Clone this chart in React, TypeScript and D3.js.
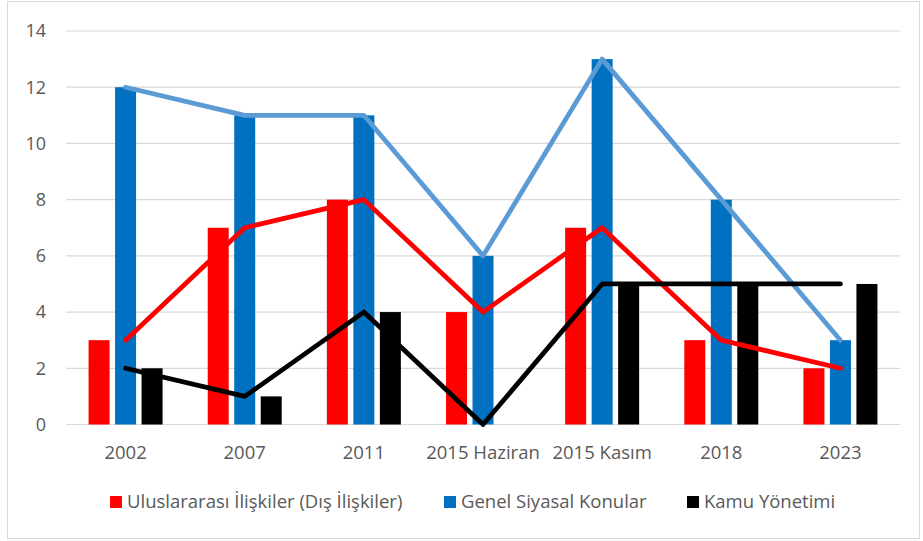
import React, { useEffect, useRef } from 'react';
import * as d3 from 'd3';

const categories = ['2002', '2007', '2011', '2015 Haziran', '2015 Kasım', '2018', '2023'];
const seriesNames = ['Uluslararası İlişkiler (Dış İlişkiler)', 'Genel Siyasal Konular', 'Kamu Yönetimi'];
const intlRelations = [3, 7, 8, 4, 7, 3, 2];
const generalPolitics = [12, 11, 11, 6, 13, 8, 3];
const publicAdmin = [2, 1, 4, 0, 5, 5, 5];
const yTicks = [0, 2, 4, 6, 8, 10, 12, 14];

const barColors = ['#FF0000', '#0070C0', '#000000'];
const lineColors = ['#FF0000', '#5B9BD5', '#000000'];

const W = 923;
const H = 541;
const FONT = '"Open Sans", "Noto Sans", sans-serif';

export default function App() {
  const svgRef = useRef<SVGSVGElement>(null);

  useEffect(() => {
    if (!svgRef.current) return;
    const svg = d3.select(svgRef.current);
    svg.selectAll('*').remove();

    const series = [intlRelations, generalPolitics, publicAdmin];

    const x = d3.scaleBand().domain(categories).range([66, 900]).padding(0);
    const y = d3.scaleLinear().domain([0, 14]).range([424.5, 31]);
    const barStep = 26.5;
    const barW = 21;

    // chart border
    svg
      .append('rect')
      .attr('x', 7.5)
      .attr('y', 1.5)
      .attr('width', 912)
      .attr('height', 537)
      .attr('fill', '#fff')
      .attr('stroke', '#D9D9D9')
      .attr('stroke-width', 1);

    // gridlines
    svg
      .append('g')
      .selectAll('line')
      .data(yTicks)
      .join('line')
      .attr('x1', 66)
      .attr('x2', 900)
      .attr('y1', d => y(d))
      .attr('y2', d => y(d))
      .attr('stroke', '#D9D9D9')
      .attr('stroke-width', 1.2);

    // y labels
    svg
      .append('g')
      .selectAll('text')
      .data(yTicks)
      .join('text')
      .attr('x', 46)
      .attr('y', d => y(d))
      .attr('dy', '0.35em')
      .attr('text-anchor', 'end')
      .attr('fill', '#595959')
      .style('font', `18px ${FONT}`)
      .text(d => d);

    // x labels
    svg
      .append('g')
      .selectAll('text')
      .data(categories)
      .join('text')
      .attr('x', d => (x(d) as number) + x.bandwidth() / 2)
      .attr('y', 459)
      .attr('text-anchor', 'middle')
      .attr('fill', '#595959')
      .style('font', `18.5px ${FONT}`)
      .text(d => d);

    // bars
    series.forEach((vals, si) => {
      svg
        .append('g')
        .selectAll('rect')
        .data(vals)
        .join('rect')
        .attr('x', (d, i) => (x(categories[i]) as number) + x.bandwidth() / 2 + (si - 1) * barStep - barW / 2)
        .attr('y', d => y(d))
        .attr('width', barW)
        .attr('height', d => y(0) - y(d))
        .attr('fill', barColors[si]);
    });

    // lines
    const line = d3
      .line<number>()
      .x((d, i) => (x(categories[i]) as number) + x.bandwidth() / 2)
      .y(d => y(d));

    series.forEach((vals, si) => {
      svg
        .append('path')
        .datum(vals)
        .attr('d', line)
        .attr('fill', 'none')
        .attr('stroke', lineColors[si])
        .attr('stroke-width', 4.75)
        .attr('stroke-linejoin', 'round')
        .attr('stroke-linecap', 'round');
    });

    // legend
    const legendX = [110, 444, 687];
    const lg = svg
      .append('g')
      .selectAll('g')
      .data(seriesNames)
      .join('g')
      .attr('transform', (d, i) => `translate(${legendX[i]},502)`);
    lg.append('rect')
      .attr('x', 0)
      .attr('y', -6)
      .attr('width', 12)
      .attr('height', 12)
      .attr('fill', (d, i) => barColors[i]);
    lg.append('text')
      .attr('x', 17)
      .attr('dy', '0.35em')
      .attr('fill', '#595959')
      .style('font', `18.5px ${FONT}`)
      .text(d => d);
  }, []);

  return <svg ref={svgRef} width={W} height={H} style={{ display: 'block', position: 'absolute', left: 0, top: 0 }} />;
}
